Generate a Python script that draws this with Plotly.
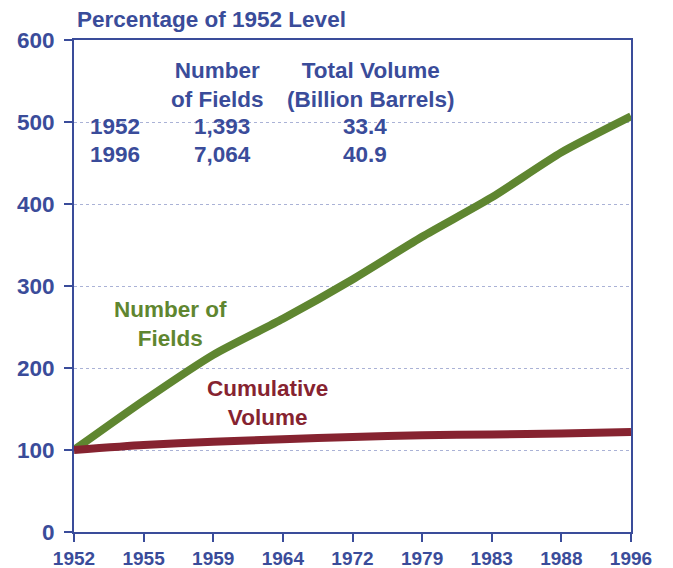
import plotly.graph_objects as go

years = ["1952", "1955", "1959", "1964", "1972", "1979", "1983", "1988", "1996"]
number_of_fields = [100, 160, 216, 260, 308, 360, 408, 463, 507]
cumulative_volume = [100, 106, 110, 113, 116, 118, 119, 120, 122]

table_years = ["1952", "1996"]
table_fields = ["1,393", "7,064"]
table_volume = ["33.4", "40.9"]

BLUE = "#3a4c9a"
GREEN = "#5f8630"
RED = "#862330"
FONT = "Liberation Sans, Arial, sans-serif"
FS = 22.5

# page has an 8px body margin: plot area lands at page x 74..631, y 40..532
fig = go.Figure()
fig.add_trace(go.Scatter(x=years, y=number_of_fields, mode="lines",
                         line=dict(color=GREEN, width=8, shape="spline", smoothing=0.6),
                         hoverinfo="skip", showlegend=False))
fig.add_trace(go.Scatter(x=years, y=cumulative_volume, mode="lines",
                         line=dict(color=RED, width=8, shape="spline", smoothing=0.6),
                         hoverinfo="skip", showlegend=False))

# white cover hiding the 500 gridline behind the table
fig.add_shape(type="rect", xref="paper", yref="y", x0=0.003, x1=0.70, y0=470, y1=540,
              fillcolor="white", line=dict(width=0), layer="between")

ann = []
def txt(text, x, y, color=BLUE, xanchor="center", size=FS):
    ann.append(dict(text=text, x=x, y=y, xref="paper", yref="paper", showarrow=False,
                    xanchor=xanchor, yanchor="middle",
                    font=dict(family=FONT, size=size, color=color)))

def px(xp):
    return (xp - 74) / 557

def py(yp):
    return (532 - yp) / 492

txt("<b>1952-1996</b>", px(200), py(-6))
txt("<b>Percentage of 1952 Level</b>", px(75), py(20), xanchor="left")
txt("<b>Number<br>of Fields</b>", px(217), py(85))
txt("<b>Total Volume<br>(Billion Barrels)</b>", px(371), py(85))
for i, (yr, nf, tv) in enumerate(zip(table_years, table_fields, table_volume)):
    yy = 126 + 28 * i
    txt(f"<b>{yr}</b>", px(115), py(yy))
    txt(f"<b>{nf}</b>", px(222), py(yy))
    txt(f"<b>{tv}</b>", px(365), py(yy))
txt("<b>Number of<br>Fields</b>", px(170), py(324), color=GREEN)
txt("<b>Cumulative<br>Volume</b>", px(267), py(403), color=RED)

fig.update_layout(
    width=665, height=560,
    margin=dict(l=66, r=42, t=32, b=36, autoexpand=False),
    paper_bgcolor="white", plot_bgcolor="white",
    annotations=ann,
    xaxis=dict(type="category", range=[0, 8], showgrid=False, automargin=False,
               showline=True, linecolor=BLUE, linewidth=2, mirror=True,
               ticks="outside", ticklen=8, tickwidth=2, tickcolor=BLUE,
               tickfont=dict(family=FONT, size=19, color=BLUE, weight="bold"),
               zeroline=False, fixedrange=True),
    yaxis=dict(range=[0, 600], dtick=100, showgrid=True, gridcolor="#aab2d6",
               griddash="dot", gridwidth=1, automargin=False,
               showline=True, linecolor=BLUE, linewidth=2, mirror=True,
               ticks="outside", ticklen=8, tickwidth=2, tickcolor=BLUE,
               ticklabelstandoff=5,
               tickfont=dict(family=FONT, size=FS, color=BLUE, weight="bold"),
               zeroline=False, fixedrange=True),
)

fig.write_html("out.html")
